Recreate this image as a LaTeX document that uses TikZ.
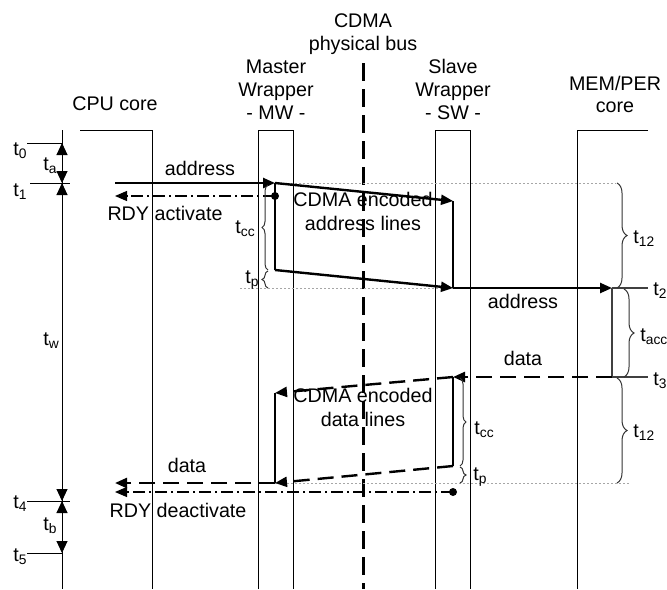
\documentclass[tikz,border=0pt]{standalone}
\usepackage{fontspec}
\setmainfont{Liberation Sans}
\usetikzlibrary{arrows.meta,decorations.pathreplacing}
\newcommand\tsb[1]{t\textsubscript{#1}}
\begin{document}
\begin{tikzpicture}[x=0.5pt,y=-0.5pt,
  every node/.style={font=\fontsize{9.85pt}{11.8pt}\selectfont, inner sep=0pt},
  thinline/.style={line width=0.5pt},
  heavy/.style={line width=1.2pt},
  tip/.style={-{Triangle[length=6pt,width=5pt]}},
  bus/.style={line width=1.5pt, dash pattern=on 9pt off 4pt},
  dataline/.style={line width=1.2pt, dash pattern=on 8pt off 4pt},
  rdy/.style={line width=0.6pt, dash pattern=on 6pt off 2pt on 1pt off 2pt},
  guide/.style={line width=0.4pt, gray!70, dash pattern=on 1pt off 1pt},
  brc/.style={decorate, decoration={brace, amplitude=3pt}, line width=0.5pt, black!80},
  axarr/.style={line width=0.5pt, {Triangle[length=6pt,width=5.5pt]}-{Triangle[length=6pt,width=5.5pt]}},
  tlab/.style={anchor=base west},
  lab/.style={anchor=base, align=center},
  ]
\useasboundingbox (0,0) rectangle (667,589);

% ---- columns
\draw[thinline] (80,130) -- (152,130) -- (152,589);
\draw[thinline] (258,589) -- (258,130) -- (293,130) -- (293,589);
\draw[thinline] (435,589) -- (435,130) -- (470,130) -- (470,589);
\draw[thinline] (648,130) -- (577,130) -- (577,589);
\draw[bus] (363,63) -- (363,589);

% ---- headers
\node[lab] (cpu) at (115,110) {CPU core};
\node[lab] (mw1) at (276,73) {Master};
\node[lab] (mw2) at (276,96) {Wrapper};
\node[lab] (mw3) at (276,119) {- MW -};
\node[lab] (bus1) at (363,27) {CDMA};
\node[lab] (bus2) at (363,50) {physical bus};
\node[lab] (sw1) at (453,73) {Slave};
\node[lab] (sw2) at (453,96) {Wrapper};
\node[lab] (sw3) at (453,119) {- SW -};
\node[lab] (mem1) at (615,90) {MEM/PER};
\node[lab] (mem2) at (615,112) {core};

% ---- time axis
\coordinate (T0) at (62,143);
\coordinate (T1) at (62,183);
\coordinate (T4) at (62,501);
\coordinate (T5) at (62,553);
\draw[thinline] (62,130) -- (62,589);
\draw[thinline] (27,143) -- (T0);
\draw[thinline] (30,183) -- (70,183);
\draw[thinline] (27,501) -- (70,501);
\draw[thinline] (27,553) -- (T5);
\draw[axarr] (T0) -- (T1);
\draw[axarr] (T1) -- (T4);
\draw[axarr] (T4) -- (T5);
\node[tlab] (lt0) at (13,155) {\tsb{0}};
\node[tlab] (lt1) at (13,196) {\tsb{1}};
\node[tlab] (lt4) at (13,508) {\tsb{4}};
\node[tlab] (lt5) at (13,561) {\tsb{5}};
\node[tlab] (lta) at (43,170) {\tsb{a}};
\node[tlab] (ltw) at (43,345) {\tsb{w}};
\node[tlab] (ltb) at (43,530) {\tsb{b}};

% ---- key points
\coordinate (S1) at (115,183);
\coordinate (A1) at (275,183);
\coordinate (A2) at (453,201);
\coordinate (A3) at (275,270);
\coordinate (A4) at (453,288);
\coordinate (M2) at (612,288);
\coordinate (M3) at (612,377);
\coordinate (D1) at (453,377);
\coordinate (D2) at (453,466);
\coordinate (D3) at (275,393);
\coordinate (D4) at (275,483);
\coordinate (E1) at (115,483);
\coordinate (R1) at (275,196);
\coordinate (R1e) at (115,196);
\coordinate (R2) at (453,492);
\coordinate (R2e) at (115,492);

% ---- guides
\draw[guide] (A1) -- (616,183);
\draw[guide] (240,288) -- (M2);
\draw[guide] (D4) -- (630,483);

% ---- address phase
\draw[heavy,tip] (S1) -- (A1);
\draw[heavy,tip] (A1) -- (A2);
\draw[heavy,tip] (A3) -- (A4);
\draw[heavy] (A1) -- (A3);
\draw[heavy] (A2) -- (A4);
\draw[heavy,tip] (A4) -- (M2);
\fill (R1) circle (2pt);
\draw[rdy,tip] (R1) -- (R1e);
\node[lab] (laddr1) at (200,175) {address};
\node[lab] (lrdy1) at (165,220) {RDY activate};
\node[lab] (lcdma1) at (363,230) {CDMA encoded\\address lines};
\node[lab] (laddr2) at (523,308) {address};

% ---- memory access
\draw[line width=0.8pt, black!75] (M2) -- (M3);
\draw[line width=0.6pt, black!75] (M2) -- (648,288);
\draw[line width=0.6pt, black!75] (M3) -- (648,377);
\node[tlab] (lt2) at (653,295) {\tsb{2}};
\node[tlab] (lt3) at (653,385) {\tsb{3}};

% ---- data phase
\draw[dataline,tip] (M3) -- (D1);
\draw[dataline,tip] (D1) -- (D3);
\draw[dataline,tip] (D2) -- (D4);
\draw[heavy] (D1) -- (D2);
\draw[heavy] (D3) -- (D4);
\draw[dataline,tip] (D4) -- (E1);
\fill (R2) circle (2pt);
\draw[rdy,tip] (R2) -- (R2e);
\node[lab] (ldata1) at (523,365) {data};
\node[lab] (lcdma2) at (363,426) {CDMA encoded\\data lines};
\node[lab] (ldata2) at (187,472) {data};
\node[lab] (lrdy2) at (178,517) {RDY deactivate};

% ---- braces
\draw[brc] (268,270) -- (268,185);
\draw[brc] (268,288) -- (268,271);
\node[tlab] (ltcc1) at (235,233) {\tsb{cc}};
\node[tlab] (ltp1) at (245,283) {\tsb{p}};
\draw[brc, decoration={amplitude=5pt}] (617,183) -- (617,288);
\node[tlab] (lt12a) at (633,243) {\tsb{12}};
\draw[brc, decoration={amplitude=5pt}] (624,289) -- (624,377);
\node[tlab] (ltacc) at (640,341) {\tsb{acc}};
\draw[brc, decoration={amplitude=5pt}] (617,378) -- (617,483);
\node[tlab] (lt12b) at (633,437) {\tsb{12}};
\draw[brc] (460,378) -- (460,466);
\draw[brc] (460,467) -- (460,483);
\node[tlab] (ltcc2) at (474,434) {\tsb{cc}};
\node[tlab] (ltp2) at (473,480) {\tsb{p}};
\end{tikzpicture}
\end{document}
